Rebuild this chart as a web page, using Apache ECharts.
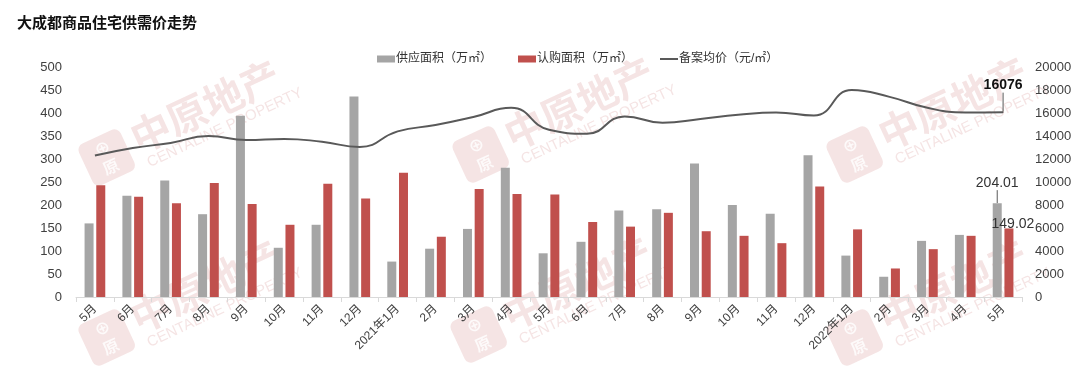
<!DOCTYPE html>
<html><head><meta charset="utf-8">
<script src="https://cdn.jsdelivr.net/npm/echarts@6/dist/echarts.min.js"></script>
<style>html,body{margin:0;padding:0;background:#fff}#c{width:1080px;height:368px}</style>
</head><body><div id="c"></div>
<script>
const categories = ["5月","6月","7月","8月","9月","10月","11月","12月","2021年1月","2月","3月","4月","5月","6月","7月","8月","9月","10月","11月","12月","2022年1月","2月","3月","4月","5月"];
const supply = [160,220,253,180,394,107,157,436,77,105,148,281,95,120,188,191,290,200,181,308,90,44,122,135,204.01];
const subscribe = [243,218,204,248,202,157,246,214,270,131,235,224,223,163,153,183,143,133,117,240,147,62,104,133,149.02];
const price = [12300,12950,13400,14000,13650,13750,13500,13050,14400,14950,15650,16450,14550,14200,15700,15150,15480,15850,16050,15780,18000,17400,16450,16050,16076];
const leftTicks = {min:0, max:500, interval:50};
const rightTicks = {min:0, max:20000, interval:2000};
const seriesNames = ["供应面积（万㎡）","认购面积（万㎡）","备案均价（元/㎡）"];

const FONT = "'Liberation Sans','Noto Sans CJK SC',sans-serif";
const wmColor = 'rgba(205,120,120,0.2)';
function watermark(x, y) {
  return {
    type: 'group', x: x, y: y, rotation: Math.PI * 25 / 180, silent: true, z: 0,
    children: [
      {type:'rect', shape:{x:-24,y:-24,width:46,height:46,r:7}, style:{fill:wmColor}},
      {type:'text', style:{x:-1,y:-1,text:'⊕\n原',fill:'rgba(255,255,255,0.8)',font:'bold 16px "Noto Sans CJK SC"',align:'center',verticalAlign:'middle',lineHeight:20}},
      {type:'text', style:{x:30,y:-6,text:'中原地产',fill:wmColor,font:'bold 40px "Noto Sans CJK SC"',verticalAlign:'middle'}},
      {type:'text', style:{x:34,y:22,text:'CENTALINE PROPERTY',fill:wmColor,font:'15px "Liberation Sans"',verticalAlign:'middle'}}
    ]
  };
}

const chart = echarts.init(document.getElementById('c'), null, {renderer:'canvas'});
const lastIdx = categories.length - 1;
chart.setOption({
  backgroundColor: '#fff',
  animation: false,
  textStyle: {fontFamily: FONT},
  title: {text: '大成都商品住宅供需价走势', left: 12, top: 10,
    textStyle: {fontSize: 15, fontWeight: 'bold', color: '#111', fontFamily: "'Noto Sans CJK SC',sans-serif"}},
  legend: {
    left: 372, top: 48, itemWidth: 18, itemHeight: 7, itemGap: 26,
    textStyle: {fontSize: 12, color: '#333', padding: [0,0,0,-4]},
    data: [
      {name: seriesNames[0], icon: 'rect'},
      {name: seriesNames[1], icon: 'rect'},
      {name: seriesNames[2], itemStyle: {color: 'rgba(0,0,0,0)', borderWidth: 0, opacity: 0}, lineStyle: {color: '#595959', width: 2}}
    ]
  },
  grid: {left: 76, right: 58, top: 67, bottom: 71},
  xAxis: {
    type: 'category', data: categories,
    axisLine: {lineStyle: {color: '#d9d9d9'}},
    axisTick: {show: true, length: 5, lineStyle: {color: '#d9d9d9'}},
    axisLabel: {rotate: 45, fontSize: 12, color: '#404040', margin: 10, interval: 0}
  },
  yAxis: [
    {type: 'value', min: leftTicks.min, max: leftTicks.max, interval: leftTicks.interval,
     splitLine: {show: false}, axisLine: {show: false}, axisTick: {show: false},
     axisLabel: {fontSize: 13, color: '#404040', margin: 14}},
    {type: 'value', min: rightTicks.min, max: rightTicks.max, interval: rightTicks.interval,
     splitLine: {show: false}, axisLine: {show: false}, axisTick: {show: false},
     axisLabel: {fontSize: 13, color: '#404040', margin: 13, formatter: v => String(v)}}
  ],
  graphic: [
    watermark(108, 158), watermark(482, 155), watermark(856, 155),
    watermark(108, 338), watermark(480, 335), watermark(856, 338)
  ],
  series: [
    {
      name: seriesNames[0], type: 'bar', yAxisIndex: 0, barWidth: 9, barGap: '30%', z: 2,
      itemStyle: {color: '#A5A5A5'},
      data: supply.map((v, i) => i === lastIdx ? {value: v, label: {show: true}} : v),
      label: {show: false, position: 'top', fontSize: 14, color: '#333', formatter: p => p.value.toFixed(2)},
      labelLayout: {dx: 0, dy: -8},
      labelLine: {show: true, lineStyle: {color: '#595959', width: 1}}
    },
    {
      name: seriesNames[1], type: 'bar', yAxisIndex: 0, barWidth: 9, z: 2,
      itemStyle: {color: '#C0504D'},
      data: subscribe.map((v, i) => i === lastIdx ? {value: v, label: {show: true}} : v),
      label: {show: false, position: 'top', fontSize: 14, color: '#333', formatter: p => p.value.toFixed(2)},
      labelLayout: {dx: 4, dy: 8}
    },
    {
      name: seriesNames[2], type: 'line', yAxisIndex: 1, smooth: 0.5, symbol: 'none', z: 3,
      lineStyle: {color: '#595959', width: 2}, itemStyle: {color: '#595959'},
      data: price.map((v, i) => i === lastIdx ? {value: v, symbol: 'circle', symbolSize: 1, label: {show: true}} : v),
      label: {show: false, position: 'top', fontSize: 14, fontWeight: 'bold', color: '#111'},
      labelLayout: {dy: -14},
      labelLine: {show: true, lineStyle: {color: '#595959', width: 1}}
    }
  ]
});
</script>
</body></html>
